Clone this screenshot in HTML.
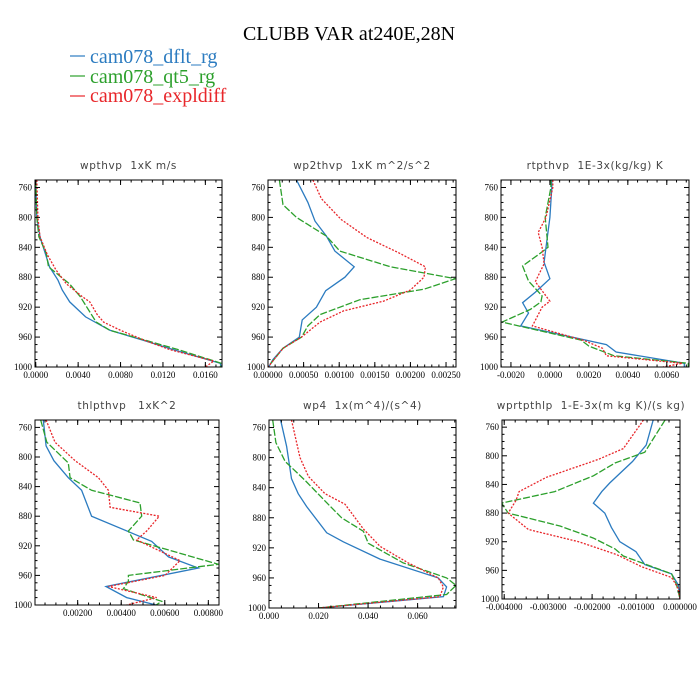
<!DOCTYPE html>
<html><head><meta charset="utf-8">
<style>
body{margin:0;background:#fff;}
svg{display:block;}
.tl{font-family:"Liberation Serif",serif;font-size:9px;fill:#000;}
.pt{font-family:"DejaVu Sans","Liberation Sans",sans-serif;font-size:10.5px;fill:#444;letter-spacing:0.6px;white-space:pre;}
</style></head>
<body>
<svg id="chart" width="700" height="700" xmlns="http://www.w3.org/2000/svg">
<text x="349" y="40" text-anchor="middle" font-family="Liberation Serif, serif" font-size="20">CLUBB VAR at240E,28N</text>
<g>
<g><line x1="70" y1="56" x2="85" y2="56" stroke="#2b7bc0" stroke-width="1.2"/><text x="90" y="63" font-family="Liberation Serif, serif" font-size="20" fill="#2b7bc0">cam078_dflt_rg</text></g>
<g><line x1="70" y1="76" x2="85" y2="76" stroke="#2ca02c" stroke-width="1.2"/><text x="90" y="83" font-family="Liberation Serif, serif" font-size="20" fill="#2ca02c">cam078_qt5_rg</text></g>
<g><line x1="70" y1="96" x2="85" y2="96" stroke="#e8262a" stroke-width="1.2"/><text x="90" y="102" font-family="Liberation Serif, serif" font-size="20" fill="#e8262a">cam078_expldiff</text></g>
</g>
</svg>
<script>
// ---- data (pressure levels hPa, values) ----
const yTicks = [760, 800, 840, 880, 920, 960, 1000];
const seriesNames = ["dflt", "qt5", "expldiff"];

const p1Title = "wpthvp  1xK m/s";
const p1TickVals = [0, 0.004, 0.008, 0.012, 0.016];
const p1TickLabels = ["0.0000", "0.0040", "0.0080", "0.0120", "0.0160"];
const p1DfltP = [750, 800, 826, 866, 884, 897, 913, 933, 951, 964, 977, 995, 1000];
const p1DfltV = [0, 0.0001, 0.0004, 0.0013, 0.0021, 0.0025, 0.0032, 0.0047, 0.0070, 0.0101, 0.0130, 0.0174, 0.0175];
const p1Qt5P = [750, 800, 826, 848, 866, 889, 906, 940, 951, 964, 977, 995, 1000];
const p1Qt5V = [0, 0.0001, 0.0003, 0.0010, 0.0012, 0.0032, 0.0042, 0.0057, 0.0070, 0.0103, 0.0135, 0.0175, 0.0174];
const p1ExpP = [750, 800, 826, 850, 870, 889, 906, 913, 930, 940, 951, 964, 977, 992, 1000];
const p1ExpV = [0.0001, 0.0002, 0.0004, 0.0011, 0.0019, 0.0029, 0.0044, 0.0051, 0.0058, 0.0064, 0.0080, 0.0102, 0.0127, 0.0168, 0.0160];

const p2Title = "wp2thvp  1xK m^2/s^2";
const p2TickVals = [0, 0.0005, 0.001, 0.0015, 0.002, 0.0025];
const p2TickLabels = ["0.00000", "0.00050", "0.00100", "0.00150", "0.00200", "0.00250"];
const p2DfltP = [750, 780, 805, 825, 845, 866, 880, 898, 920, 937, 960, 975, 990, 1000];
const p2DfltV = [0.0004, 0.00056, 0.00066, 0.00082, 0.00094, 0.00121, 0.00108, 0.00081, 0.00068, 0.00048, 0.00044, 0.00021, 0.00007, 0.00001];
const p2Qt5P = [750, 783, 800, 825, 845, 866, 882, 896, 910, 930, 945, 960, 975, 1000];
const p2Qt5V = [0.00016, 0.00021, 0.0004, 0.00082, 0.00101, 0.00172, 0.00263, 0.00219, 0.00129, 0.00073, 0.00056, 0.00047, 0.00021, 0];
const p2ExpP = [750, 775, 803, 827, 847, 866, 880, 897, 912, 925, 940, 960, 975, 1000];
const p2ExpV = [0.00063, 0.00075, 0.00103, 0.00139, 0.00183, 0.00221, 0.00219, 0.002, 0.00162, 0.00106, 0.00073, 0.00047, 0.00021, 0];

const p3Title = "rtpthvp  1E-3x(kg/kg) K";
const p3TickVals = [-0.002, 0, 0.002, 0.004, 0.006];
const p3TickLabels = ["-0.0020", "0.0000", "0.0020", "0.0040", "0.0060"];
const p3DfltP = [750, 760, 800, 840, 860, 882, 900, 914, 928, 945, 970, 980, 995, 1000];
const p3DfltV = [0.0001, 0.0001, 0, -0.0002, -0.0003, 0, -0.00075, -0.0014, -0.0011, -0.0015, 0.0029, 0.0034, 0.0069, 0.0069];
const p3Qt5P = [750, 760, 800, 840, 848, 865, 885, 905, 913, 923, 940, 964, 972, 985, 995, 1000];
const p3Qt5V = [0.00005, 0.00005, -0.00024, -0.0001, -0.0005, -0.0014, -0.0011, -0.0004, -0.00046, -0.001, -0.00246, 0.0016, 0.002, 0.0033, 0.0071, 0.0071];
const p3ExpP = [750, 760, 800, 820, 840, 862, 886, 912, 920, 945, 965, 975, 985, 995, 1000];
const p3ExpV = [0.00015, 0.00015, -0.0002, -0.0006, -0.0004, -0.0003, -0.00075, 0, -0.0004, -0.0009, 0.0018, 0.0027, 0.0029, 0.0068, 0.0058];

const p4Title = "thlpthvp   1xK^2";
const p4TickVals = [0.002, 0.004, 0.006, 0.008];
const p4TickLabels = ["0.00200", "0.00400", "0.00600", "0.00800"];
const p4DfltP = [750, 785, 805, 828, 845, 880, 914, 935, 950, 975, 990, 1000];
const p4DfltV = [0.00042, 0.00055, 0.00091, 0.00157, 0.00218, 0.00264, 0.0054, 0.00617, 0.00754, 0.0033, 0.00425, 0.0056];
const p4Qt5P = [750, 780, 808, 828, 845, 862, 880, 900, 912, 945, 960, 968, 978, 995, 1000];
const p4Qt5V = [0.0003, 0.00058, 0.00157, 0.00165, 0.00264, 0.00486, 0.00494, 0.00433, 0.00456, 0.00846, 0.00433, 0.00433, 0.0041, 0.00586, 0.0056];
const p4ExpP = [750, 780, 805, 828, 845, 868, 880, 900, 912, 940, 960, 975, 990, 1000];
const p4ExpV = [0.00055, 0.00096, 0.00188, 0.00295, 0.00341, 0.00349, 0.00575, 0.00517, 0.00471, 0.0067, 0.00601, 0.00341, 0.00563, 0.00425];

const p5Title = "wp4  1x(m^4)/(s^4)";
const p5TickVals = [0, 0.02, 0.04, 0.06];
const p5TickLabels = ["0.000", "0.020", "0.040", "0.060"];
const p5DfltP = [750, 785, 828, 848, 865, 900, 912, 935, 960, 972, 985, 1000];
const p5DfltV = [0.0047, 0.0071, 0.0091, 0.0118, 0.0152, 0.0233, 0.030, 0.0448, 0.0683, 0.0717, 0.0704, 0.0199];
const p5Qt5P = [750, 780, 805, 830, 860, 880, 898, 914, 940, 960, 970, 982, 1000];
const p5Qt5V = [0.0015, 0.0028, 0.0065, 0.0145, 0.0233, 0.0293, 0.0381, 0.0401, 0.0542, 0.0717, 0.0755, 0.0717, 0.0199];
const p5ExpP = [750, 800, 825, 848, 862, 895, 918, 940, 960, 972, 985, 1000];
const p5ExpV = [0.0091, 0.0125, 0.0159, 0.0226, 0.0307, 0.0381, 0.0448, 0.0562, 0.0683, 0.0704, 0.069, 0.0199];

const p6Title = "wprtpthlp  1-E-3x(m kg K)/(s kg)";
const p6TickVals = [-0.004, -0.003, -0.002, -0.001, 0];
const p6TickLabels = ["-0.004000", "-0.003000", "-0.002000", "-0.001000", "0.000000"];
const p6DfltP = [750, 785, 808, 838, 850, 866, 880, 900, 920, 934, 952, 965, 980, 1000];
const p6DfltV = [-0.00061, -0.00077, -0.00108, -0.0016, -0.00178, -0.00197, -0.00171, -0.00156, -0.00137, -0.001, -0.0008, -0.00019, -0.00004, 0];
const p6Qt5P = [750, 795, 810, 828, 850, 866, 880, 898, 915, 930, 940, 965, 980, 1000];
const p6Qt5V = [-0.00034, -0.0008, -0.00148, -0.00197, -0.00285, -0.00406, -0.00391, -0.00273, -0.00197, -0.00148, -0.00129, -0.00019, -0.00008, 0];
const p6ExpP = [750, 790, 805, 830, 850, 862, 880, 903, 920, 938, 955, 970, 985, 1000];
const p6ExpV = [-0.00083, -0.00129, -0.00186, -0.00304, -0.00366, -0.00373, -0.00391, -0.00345, -0.00231, -0.00144, -0.00087, -0.00019, -0.00004, 0];

// ---- layout ----
const panels = [
 {id:"wpthvp", title:p1Title, l:35, r:222, t:180, b:367, xmin:-0.00007, xmax:0.01757, tv:p1TickVals, tl:p1TickLabels, minor:0.001,
  s:[[p1DfltP,p1DfltV],[p1Qt5P,p1Qt5V],[p1ExpP,p1ExpV]]},
 {id:"wp2thvp", title:p2Title, l:268, r:456, t:180, b:367, xmin:0, xmax:0.00264, tv:p2TickVals, tl:p2TickLabels, minor:0.0001,
  s:[[p2DfltP,p2DfltV],[p2Qt5P,p2Qt5V],[p2ExpP,p2ExpV]]},
 {id:"rtpthvp", title:p3Title, l:501, r:689, t:180, b:367, xmin:-0.00251, xmax:0.00714, tv:p3TickVals, tl:p3TickLabels, minor:0.0005,
  s:[[p3DfltP,p3DfltV],[p3Qt5P,p3Qt5V],[p3ExpP,p3ExpV]]},
 {id:"thlpthvp", title:p4Title, l:35, r:219, t:420, b:605, xmin:0.00004, xmax:0.00849, tv:p4TickVals, tl:p4TickLabels, minor:0.0005,
  s:[[p4DfltP,p4DfltV],[p4Qt5P,p4Qt5V],[p4ExpP,p4ExpV]]},
 {id:"wp4", title:p5Title, l:269, r:456, t:420, b:608, xmin:0, xmax:0.0755, tv:p5TickVals, tl:p5TickLabels, minor:0.005,
  s:[[p5DfltP,p5DfltV],[p5Qt5P,p5Qt5V],[p5ExpP,p5ExpV]]},
 {id:"wprtpthlp", title:p6Title, l:502, r:680, t:420, b:599, xmin:-0.00405, xmax:0, tv:p6TickVals, tl:p6TickLabels, minor:0.00025,
  s:[[p6DfltP,p6DfltV],[p6Qt5P,p6Qt5V],[p6ExpP,p6ExpV]]}
];
const colors = ["#2b7bc0", "#2ca02c", "#e8262a"];
const dashes = ["", "7,2", "2,1.5"];
const NS = "http://www.w3.org/2000/svg";
const svg = document.getElementById("chart");
function mk(tag, attrs, parent){const e=document.createElementNS(NS,tag);for(const k in attrs)e.setAttribute(k,attrs[k]);parent.appendChild(e);return e;}

panels.forEach(function(P){
  const g = mk("g", {}, svg);
  
  
  const xs = v => P.l + (v - P.xmin) / (P.xmax - P.xmin) * (P.r - P.l);
  const ys = p => P.t + (p - 750) / 250 * (P.b - P.t);
  const ti = mk("text", {x:(P.l+P.r)/2, y:P.t-11, "text-anchor":"middle", class:"pt"}, g);
  ti.textContent = P.title;
  
  
  const cp = mk("clipPath", {id:"clip-"+P.id}, g);
  mk("rect", {x:P.l, y:P.t, width:P.r-P.l, height:P.b-P.t}, cp);
  P.s.forEach(function(ser, i){
    const pts = ser[0].map((p,k)=>xs(ser[1][k]).toFixed(1)+","+ys(p).toFixed(1)).join(" ");
    const pl = mk("polyline", {points:pts, fill:"none", stroke:colors[i], "stroke-width":1.3, "stroke-dasharray":dashes[i], "clip-path":"url(#clip-"+P.id+")"}, g);
    
    
  });
  const fr = mk("rect", {x:P.l, y:P.t, width:P.r-P.l, height:P.b-P.t, fill:"none", stroke:"#000", "stroke-width":1}, g);
  
  
  for(let p=760;p<=1000;p+=10){
    const y=ys(p), maj=(p-760)%40===0, L=maj?5:2.5;
    mk("line",{x1:P.l,y1:y,x2:P.l+L,y2:y,stroke:"#000","stroke-width":1},g);
    mk("line",{x1:P.r,y1:y,x2:P.r-L,y2:y,stroke:"#000","stroke-width":1},g);
  }
  yTicks.forEach(function(p){
    const t = mk("text",{x:P.l-3,y:ys(p)+3,"text-anchor":"end",class:"tl"},g);
    t.textContent = p;
    
    
  });
  const start = Math.ceil(P.xmin/P.minor - 1e-6);
  for(let k=start; k*P.minor<=P.xmax+1e-12; k++){
    const x=xs(k*P.minor);
    mk("line",{x1:x,y1:P.b,x2:x,y2:P.b-2.5,stroke:"#000","stroke-width":1},g);
    mk("line",{x1:x,y1:P.t,x2:x,y2:P.t+2.5,stroke:"#000","stroke-width":1},g);
  }
  P.tv.forEach(function(v,k){
    const x=xs(v);
    mk("line",{x1:x,y1:P.b,x2:x,y2:P.b-5,stroke:"#000","stroke-width":1},g);
    mk("line",{x1:x,y1:P.t,x2:x,y2:P.t+5,stroke:"#000","stroke-width":1},g);
    const t = mk("text",{x:x,y:P.b+11,"text-anchor":"middle",class:"tl"},g);
    t.textContent = P.tl[k];
    
    
  });
});
</script>
</body></html>
